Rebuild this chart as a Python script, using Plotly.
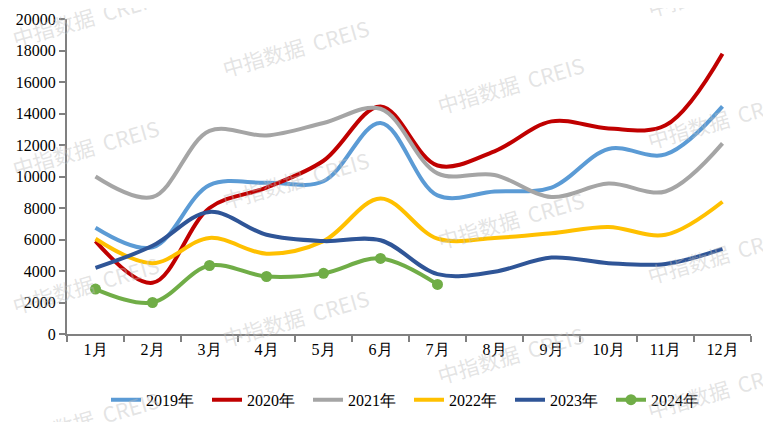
import plotly.graph_objects as go

# month labels and monthly values per year
months = ['1月', '2月', '3月', '4月', '5月', '6月', '7月', '8月', '9月', '10月', '11月', '12月']
y2019 = [6750, 5500, 9450, 9600, 9700, 13400, 8800, 9050, 9300, 11750, 11400, 14450]
y2020 = [5900, 3250, 8000, 9300, 11000, 14450, 10700, 11600, 13500, 13050, 13250, 17800]
y2021 = [10000, 8700, 12900, 12600, 13400, 14300, 10200, 10100, 8700, 9550, 9050, 12100]
y2022 = [6050, 4500, 6100, 5100, 5900, 8600, 6050, 6100, 6400, 6800, 6300, 8400]
y2023 = [4200, 5600, 7750, 6300, 5900, 5950, 3800, 3950, 4850, 4500, 4450, 5400]
y2024 = [2850, 2000, 4350, 3650, 3850, 4800, 3150]

series = [
    ('2019年', y2019, '#5B9BD5'),
    ('2020年', y2020, '#C00000'),
    ('2021年', y2021, '#A5A5A5'),
    ('2022年', y2022, '#FFC000'),
    ('2023年', y2023, '#2F5597'),
]

fig = go.Figure()
for name, vals, color in series:
    fig.add_trace(go.Scatter(
        x=months[:len(vals)], y=vals, name=name, mode='lines',
        line=dict(color=color, width=4, shape='spline', smoothing=1.0),
    ))
fig.add_trace(go.Scatter(
    x=months[:len(y2024)], y=y2024, name='2024年', mode='lines+markers',
    line=dict(color='#70AD47', width=4, shape='spline', smoothing=1.0),
    marker=dict(size=11, color='#70AD47'),
))

# the page body adds an 8px offset, so the figure is 8px smaller than the window
W, H = 763, 414
L, R, T, B = 59, 20, 11, 88
x0, y0 = 8 + L, 8 + T            # plot area corner on screen
pw, ph = W - L - R, H - T - B

# watermark, repeated across the canvas (screen pixel centres -> paper coords)
marks = [(85, 18), (85, 148), (85, 285), (85, 420),
         (295, 48), (295, 180), (295, 318),
         (510, 85), (510, 220), (510, 355),
         (720, -12), (720, 120), (720, 255), (720, 390)]
for mx, my in marks:
    fig.add_annotation(
        x=(mx - x0) / pw, y=1 - (my - y0) / ph, xref='paper', yref='paper',
        xanchor='center', yanchor='middle',
        text='中指数据  CREIS', showarrow=False, textangle=-16,
        font=dict(family='Noto Sans CJK SC', size=21, color='rgba(190,190,190,0.42)'),
    )

serif = 'Times New Roman, Liberation Serif, DejaVu Serif, serif'
axis_font = dict(family=serif, size=16, color='black')
fig.update_layout(
    width=W, height=H,
    margin=dict(l=L, r=R, t=T, b=B, autoexpand=False),
    paper_bgcolor='white', plot_bgcolor='white',
    font=axis_font,
    showlegend=True,
    legend=dict(orientation='h', x=0.5, xanchor='center', y=-0.155, yanchor='top',
                font=axis_font, itemwidth=30, entrywidth=56, tracegroupgap=0),
    xaxis=dict(
        type='category', showline=True, linecolor='#808080', linewidth=2,
        ticks='outside', ticklen=6, tickcolor='#808080', tickwidth=2,
        tickson='boundaries', showgrid=False, range=[-0.5, 11.5], tickfont=axis_font,
        automargin=False,
    ),
    yaxis=dict(
        range=[0, 20000], dtick=2000, tickformat='d', showline=True,
        linecolor='#808080', linewidth=2,
        ticks='outside', ticklen=6, tickcolor='#808080', tickwidth=2,
        showgrid=False, zeroline=False, tickfont=axis_font, automargin=False,
    ),
)

fig.write_html("out.html")
